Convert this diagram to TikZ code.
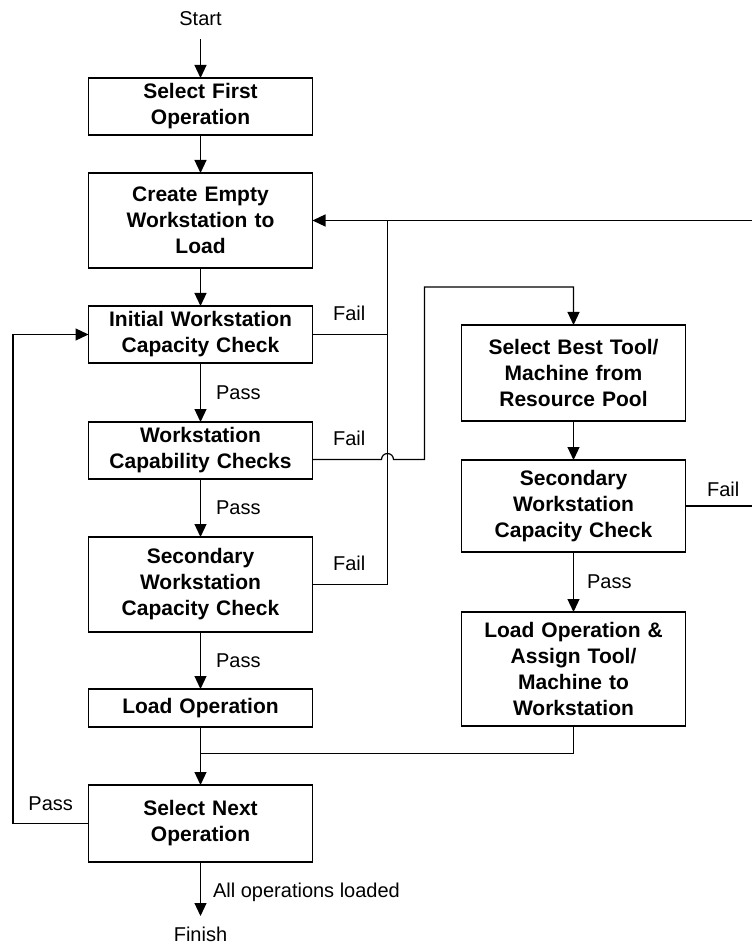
\documentclass[tikz,border=0pt]{standalone}
\usepackage{fontspec}
\setmainfont{Liberation Sans}
\usetikzlibrary{arrows.meta,positioning,calc}
\tikzset{
  wire/.style={line width=0.6pt,black},
  flow/.style={wire,-{Triangle[length=6.5pt,width=6pt]}},
  box/.style={draw,line width=0.6pt,text width=104pt,inner xsep=4pt,
              inner ysep=2pt,outer sep=0pt,align=center,
              font=\fontsize{10.5pt}{13pt}\selectfont\bfseries},
  lbl/.style={inner sep=2pt,font=\fontsize{10pt}{12pt}\selectfont},
  faillbl/.style={lbl,anchor=south west,xshift=8pt,yshift=4.5pt},
  passlbl/.style={lbl,anchor=west,xshift=5.5pt},
}

\begin{document}
\begin{tikzpicture}
  \useasboundingbox (0,0) rectangle (375.5pt,-473pt);

  % main column
  \node[box,minimum height=28.5pt] (sel1) at (100.25pt,-53.25pt) {Select First\\Operation};
  \node[lbl,above=24pt of sel1] (start) {Start};
  \node[box,minimum height=47.5pt,below=19pt of sel1] (create) {Create Empty\\Workstation to\\Load};
  \node[box,minimum height=28.5pt,below=19pt of create] (init) {Initial Workstation\\Capacity Check};
  \node[box,minimum height=28.5pt,below=29.5pt of init] (capab) {Workstation\\Capability Checks};
  \node[box,minimum height=47.5pt,below=29pt of capab] (sec) {Secondary\\Workstation\\Capacity Check};
  \node[box,minimum height=19pt,below=28.5pt of sec] (load) {Load Operation};
  \node[box,minimum height=38.5pt,below=29pt of load] (next) {Select Next\\Operation};
  \node[lbl,below=30.5pt of next] (finish) {Finish};

  % resource column
  \node[box,minimum height=48pt] (tool) at (286.75pt,-186.5pt) {Select Best Tool/\\Machine from\\Resource Pool};
  \node[box,minimum height=46pt,below=19.5pt of tool] (sec2) {Secondary\\Workstation\\Capacity Check};
  \node[box,minimum height=57pt,below=30pt of sec2] (assign) {Load Operation \&\\Assign Tool/\\Machine to\\Workstation};

  \coordinate (join) at ($(load.south)!0.45!(next.north)$);

  \draw[flow,shorten <=4.5pt] (start) -- (sel1);
  \draw[flow] (sel1) -- (create);
  \draw[flow] (create) -- (init);
  \draw[flow] (init) -- node[passlbl]{Pass} (capab);
  \draw[flow] (capab) -- node[passlbl]{Pass} (sec);
  \draw[flow] (sec) -- node[passlbl]{Pass} (load);
  \draw[flow] (load) -- (next);
  \draw[flow,shorten >=3.5pt] (next) -- node[lbl,anchor=west,xshift=4pt]{All operations loaded} (finish);
  \draw[wire] (assign.south) |- (join);

  % fail returns
  \draw[wire] (sec.east) node[faillbl]{Fail} -- ++(37.5pt,0) coordinate (fbus) -- (fbus |- create.east);
  \draw[wire] (init.east) node[faillbl]{Fail} -- (init.east -| fbus);
  \draw[flow] ([yshift=-4.5pt]capab.east) node[faillbl]{Fail}
    -- ($(capab.east -| fbus)+(-3pt,-4.5pt)$) arc[start angle=180,end angle=0,radius=3pt]
    -- ++(15.5pt,0) |- ([yshift=19pt]tool.north) -- (tool.north);

  \draw[flow] (tool) -- (sec2);
  \draw[flow] (sec2) -- node[passlbl,xshift=-1pt]{Pass} (assign);
  \draw[flow] (sec2.east) node[faillbl,xshift=0.5pt,yshift=-2pt]{Fail} -- ++(36pt,0) |- (create.east);

  % loop back
  \draw[flow] (next.west) node[lbl,anchor=south east,xshift=-5.5pt,yshift=4pt]{Pass}
    -- ++(-37.75pt,0) |- (init.west);
\end{tikzpicture}
\end{document}
